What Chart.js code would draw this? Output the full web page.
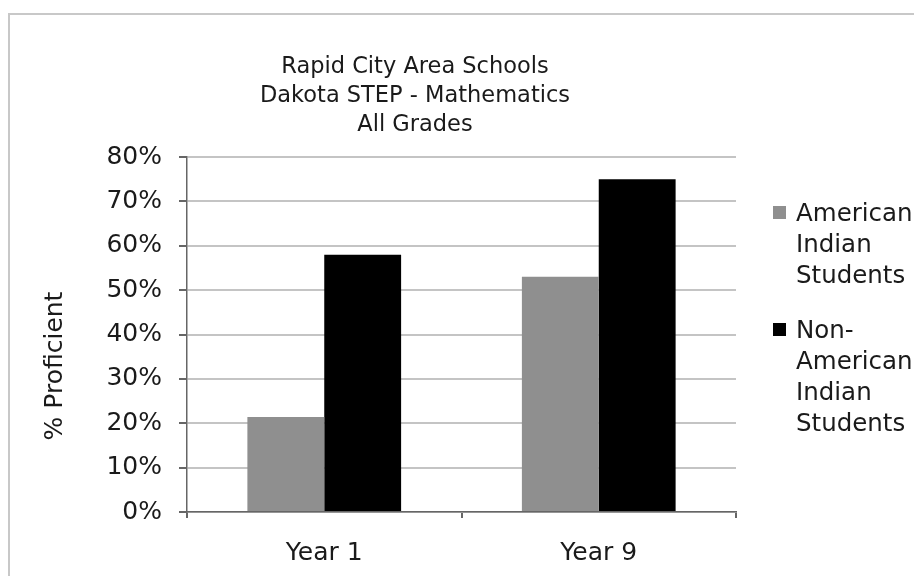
<!DOCTYPE html>
<html>
<head>
<meta charset="utf-8">
<script src="https://cdn.jsdelivr.net/npm/chart.js@4/dist/chart.umd.min.js"></script>
<style>
  html, body { margin: 0; padding: 0; background: #fff; }
  #wrap { width: 914px; height: 576px; position: relative; }
</style>
</head>
<body>
<div id="wrap"><canvas id="c" width="914" height="576"></canvas></div>
<script>
const categories = ['Year 1', 'Year 9'];
const americanIndian = [21.4, 53.0];
const nonAmericanIndian = [58.0, 75.0];
const seriesNames = ['American Indian Students', 'Non-American Indian Students'];
const legendLines = [['American', 'Indian', 'Students'], ['Non-', 'American', 'Indian', 'Students']];
const titleLines = ['Rapid City Area Schools', 'Dakota STEP - Mathematics', 'All Grades'];
const yAxisTitle = '% Proficient';
const yTickMax = 80;
const yTickStep = 10;

const FONT = '"DejaVu Sans", Verdana, sans-serif';
const TEXT = '#1a1a1a';

const decorPlugin = {
  id: 'decor',
  beforeDraw(chart) {
    const ctx = chart.ctx;
    ctx.save();
    ctx.fillStyle = '#fff';
    ctx.fillRect(0, 0, chart.width, chart.height);
    ctx.strokeStyle = '#c8c8c8';
    ctx.lineWidth = 2;
    ctx.strokeRect(9, 14, chart.width + 20, chart.height + 20);
    ctx.restore();
  },
  afterDraw(chart) {
    const ctx = chart.ctx;
    ctx.save();
    // Title
    ctx.fillStyle = TEXT;
    ctx.font = '22.5px ' + FONT;
    ctx.textAlign = 'center';
    ctx.textBaseline = 'alphabetic';
    const tb = [73, 102, 131];
    titleLines.forEach((t, i) => ctx.fillText(t, 415, tb[i]));
    // Y axis title
    ctx.save();
    ctx.font = '25px ' + FONT;
    ctx.translate(62, 366);
    ctx.rotate(-Math.PI / 2);
    ctx.textAlign = 'center';
    ctx.fillText(yAxisTitle, 0, 0);
    ctx.restore();
    // Legend
    ctx.textAlign = 'left';
    ctx.font = '24.5px ' + FONT;
    const starts = [221, 338];
    chart.data.datasets.forEach((ds, i) => {
      const base = starts[i];
      ctx.fillStyle = ds.backgroundColor;
      ctx.fillRect(773, base - 15, 13, 13);
      ctx.fillStyle = TEXT;
      legendLines[i].forEach((ln, j) => ctx.fillText(ln, 796, base + j * 31));
    });
    ctx.restore();
  }
};

new Chart(document.getElementById('c'), {
  type: 'bar',
  data: {
    labels: categories,
    datasets: [
      { label: seriesNames[0], data: americanIndian, backgroundColor: '#8f8f8f', borderWidth: 0 },
      { label: seriesNames[1], data: nonAmericanIndian, backgroundColor: '#000000', borderWidth: 0 }
    ]
  },
  options: {
    responsive: false,
    animation: false,
    devicePixelRatio: 1,
    layout: { padding: { top: 157, right: 178, bottom: 0, left: 0 } },
    datasets: { bar: { categoryPercentage: 0.56, barPercentage: 1.0 } },
    plugins: {
      legend: { display: false },
      title: { display: false },
      tooltip: { enabled: false }
    },
    scales: {
      x: {
        afterFit(scale) { scale.height = 64; },
        border: { display: true, color: '#666666', width: 1.5 },
        grid: {
          offset: true,
          drawOnChartArea: true,
          drawTicks: true,
          tickLength: 6,
          tickColor: '#666666',
          color: (c) => (c.index === categories.length ? '#c4c4c4' : 'rgba(0,0,0,0)'),
          lineWidth: 2
        },
        ticks: { color: TEXT, font: { family: FONT, size: 25 }, padding: 20, maxRotation: 0 }
      },
      y: {
        min: 0,
        max: yTickMax,
        afterFit(scale) { scale.width = 187; },
        border: { display: true, color: '#666666', width: 1.5 },
        grid: {
          color: '#c4c4c4',
          lineWidth: 2,
          drawTicks: true,
          tickLength: 8,
          tickColor: '#666666'
        },
        ticks: {
          stepSize: yTickStep,
          color: TEXT,
          font: { family: FONT, size: 25 },
          padding: 17,
          callback: (v) => v + '%'
        },
        title: { display: false }
      }
    }
  },
  plugins: [decorPlugin]
});
</script>
</body>
</html>
